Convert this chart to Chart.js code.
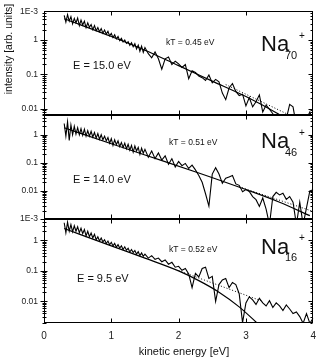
<!DOCTYPE html>
<html>
<head>
<meta charset="utf-8">
<script src="https://cdn.jsdelivr.net/npm/chart.js@4.4.1/dist/chart.umd.min.js"></script>
<style>
  html, body { margin: 0; padding: 0; background: #fff; }
  canvas { display: block; }
</style>
</head>
<body>
<canvas id="naChart" width="323" height="362"></canvas>
<script>
// kinetic energy grid of the measured spectra (eV)
const energy = [
  0.3, 0.325, 0.35, 0.375, 0.4, 0.425, 0.45, 0.475, 0.5, 0.525,
  0.55, 0.575, 0.6, 0.625, 0.65, 0.675, 0.7, 0.725, 0.75, 0.775,
  0.8, 0.825, 0.85, 0.875, 0.9, 0.925, 0.95, 0.975, 1, 1.025,
  1.05, 1.075, 1.1, 1.125, 1.15, 1.175, 1.2, 1.225, 1.25, 1.275,
  1.3, 1.325, 1.35, 1.375, 1.4, 1.425, 1.45, 1.475, 1.5,
  1.55, 1.6, 1.65, 1.7, 1.75, 1.8, 1.85, 1.9, 1.95, 2,
  2.05, 2.1, 2.15, 2.2, 2.25, 2.3, 2.35, 2.4, 2.45, 2.5,
  2.55, 2.6, 2.65, 2.7, 2.75, 2.8, 2.85, 2.9, 2.95, 3,
  3.05, 3.1, 3.15, 3.2, 3.25, 3.3, 3.35, 3.4, 3.45, 3.5,
  3.55, 3.6, 3.65, 3.7, 3.75, 3.8, 3.85, 3.9, 3.95, 4
];

// measured intensities (arb. units)
const na70 = [
  5.25, 3.31, 5.50, 3.55, 4.79, 2.95, 4.27, 3.16, 4.37, 2.63,
  3.80, 2.75, 3.55, 2.29, 3.16, 2.34, 2.82, 2.00, 2.63, 1.86,
  2.29, 1.74, 2.14, 1.58, 1.95, 1.48, 1.78, 1.32, 1.55, 1.17,
  1.41, 1.07, 1.26, 0.955, 1.12, 0.871, 1.00, 0.794, 0.891, 0.692,
  0.832, 0.631, 0.776, 0.550, 0.708, 0.468, 0.661, 0.437, 0.603,
  0.398, 0.302, 0.447, 0.282, 0.141, 0.282, 0.316, 0.191, 0.240, 0.200,
  0.158, 0.191, 0.0741, 0.126, 0.112, 0.0891, 0.0794, 0.0661, 0.0955, 0.0562,
  0.0708, 0.0603, 0.0282, 0.0182, 0.0398, 0.0537, 0.0316, 0.0240, 0.0263, 0.0120,
  0.0209, 0.0112, 0.0158, 0.0251, 0.00794, 0.0126, 0.00955, 0.00708, 0.00398, 0.00251,
  0.00316, 0.00501, 0.0132, 0.0112, 0.00316, 0.00200, 0.00251, 0.00501, 0.00794, 0.00398
];
const na46 = [
  2.51, 0.891, 2.88, 0.631, 2.24, 1.00, 2.00, 1.05, 1.78, 1.00,
  1.66, 0.955, 1.58, 0.891, 1.41, 0.891, 1.32, 0.832, 1.20, 0.759,
  1.10, 0.692, 1.00, 0.661, 0.891, 0.603, 0.794, 0.501, 0.724, 0.417,
  0.661, 0.447, 0.603, 0.380, 0.525, 0.355, 0.501, 0.316, 0.457, 0.282,
  0.417, 0.240, 0.398, 0.263, 0.355, 0.200, 0.331, 0.219, 0.302,
  0.158, 0.263, 0.141, 0.224, 0.126, 0.178, 0.0891, 0.141, 0.0708, 0.112,
  0.0794, 0.0955, 0.0631, 0.0832, 0.0562, 0.0355, 0.0204, 0.00794, 0.00288, 0.0398,
  0.0676, 0.0398, 0.0186, 0.0282, 0.0316, 0.0355, 0.0178, 0.0158, 0.00933, 0.0112,
  0.00955, 0.00631, 0.00490, 0.00282, 0.00562, 0.00224, 0.000631, 0.00631, 0.00891, 0.00724,
  0.00832, 0.00501, 0.00631, 0.00398, 0.000631, 0.00398, 0.000631, 0.00251, 0.0100, 0.0110
];
const na16 = [
  3.80, 1.78, 3.98, 2.00, 3.31, 1.91, 3.02, 2.00, 2.82, 1.78,
  2.51, 1.66, 2.29, 1.41, 2.00, 1.32, 1.74, 1.20, 1.58, 1.05,
  1.32, 0.955, 1.20, 0.891, 1.05, 0.794, 0.955, 0.724, 0.871, 0.661,
  0.794, 0.603, 0.724, 0.562, 0.661, 0.501, 0.617, 0.479, 0.550, 0.417,
  0.501, 0.398, 0.468, 0.355, 0.427, 0.316, 0.389, 0.302, 0.355,
  0.263, 0.316, 0.240, 0.263, 0.200, 0.229, 0.166, 0.191, 0.132, 0.141,
  0.105, 0.120, 0.0794, 0.0282, 0.0832, 0.0631, 0.120, 0.132, 0.0562, 0.0661,
  0.0100, 0.0355, 0.0501, 0.0562, 0.0282, 0.0417, 0.0355, 0.0178, 0.00200, 0.00891,
  0.0141, 0.0112, 0.00794, 0.0126, 0.00891, 0.00708, 0.0105, 0.00631, 0.00891, 0.00708,
  0.00501, 0.00759, 0.00562, 0.00398, 0.00447, 0.00316, 0.00191, 0.00398, 0.00191, 0.00282
];

// fitted curves (solid) and plain exponentials (dotted)
const fitE70 = [0.3, 1, 1.5, 2, 2.5, 3, 3.45, 3.55];
const fit70 = [4.17, 1.26, 0.501, 0.178, 0.0631, 0.0224, 0.00759, 0.00575];
const dotE70 = [2.7, 3.7];
const dot70 = [0.0501, 0.00575];

const fitE46 = [0.3, 1, 1.5, 2.3, 3, 3.5, 3.95];
const fit46 = [1.78, 0.479, 0.191, 0.0437, 0.0112, 0.00398, 0.00132];
const dotE46 = [2.9, 4.0];
const dot46 = [0.0141, 0.00186];

const fitE16 = [0.3, 1, 1.5, 2, 2.3, 2.6, 2.9, 3.2];
const fit16 = [2.45, 0.661, 0.263, 0.100, 0.0479, 0.0200, 0.00661, 0.00166];
const dotE16 = [2.0, 3.25];
const dot16 = [0.102, 0.0100];

// y ranges of the three panels (top to bottom)
const range70 = [0.00646, 6.94];
const range46 = [0.001, 5.02];
const range16 = [0.00195, 5.03];

const xTickLabels = ['0', '1', '2', '3', '4'];

const FONT = '"Liberation Sans", Arial, sans-serif';

const panels = [
  { axis: 'yA', sub: '70', kT: 'kT = 0.45 eV', eLab: 'E = 15.0 eV',
    pos: { kT: [122, 34], e: [29, 58], na: [217, 40], sub: [241, 48], plus: [258, 25] } },
  { axis: 'yB', sub: '46', kT: 'kT = 0.51 eV', eLab: 'E = 14.0 eV',
    pos: { kT: [125, 30], e: [29, 68], na: [217, 33], sub: [241, 41], plus: [258, 18] } },
  { axis: 'yC', sub: '16', kT: 'kT = 0.52 eV', eLab: 'E = 9.5 eV',
    pos: { kT: [125, 33], e: [33, 63], na: [217, 35], sub: [241, 42], plus: [258, 19] } }
];

function pts(xs, ys) {
  return xs.map((x, i) => ({ x: x, y: ys[i] }));
}

function isDecade(v) {
  const lg = Math.log10(v);
  return Math.abs(lg - Math.round(lg)) < 1e-6;
}

function decadeLabel(v) {
  if (!isDecade(v)) return '';
  const e = Math.round(Math.log10(v));
  if (e <= -3) return '1E' + e;
  return String(+v.toPrecision(1));
}

function logTicks(scale) {
  const t = [];
  for (let e = -4; e <= 1; e++) {
    for (let k = 1; k <= 9; k++) {
      const v = +(k * Math.pow(10, e)).toPrecision(3);
      if (v >= scale.min && v <= scale.max) t.push({ value: v });
    }
  }
  scale.ticks = t;
}

function yAxis(r) {
  return {
    type: 'logarithmic',
    position: 'left',
    stack: 'panels',
    stackWeight: 1,
    min: r[0],
    max: r[1],
    afterBuildTicks: logTicks,
    afterFit: s => { s.width = 44; },
    grid: { display: false, drawTicks: false },
    border: { display: false },
    ticks: {
      autoSkip: false,
      padding: 6,
      color: '#222',
      font: { family: FONT, size: 8.5 },
      callback: v => decadeLabel(v)
    }
  };
}

function line(data, axis, opts) {
  return Object.assign({
    data: data,
    yAxisID: axis,
    borderColor: '#000',
    borderWidth: 1.1,
    pointRadius: 0,
    tension: 0,
    clip: 0,
    fill: false
  }, opts || {});
}

const decor = {
  id: 'decor',
  afterDraw(chart) {
    const ctx = chart.ctx;
    const xs = chart.scales.x;
    const left = Math.round(xs.left) + 0.5;
    const right = Math.round(xs.right) - 0.5;
    ctx.save();
    ctx.strokeStyle = '#000';
    ctx.lineWidth = 1;
    panels.forEach(p => {
      const ys = chart.scales[p.axis];
      const top = Math.round(ys.top) + 0.5;
      const bottom = Math.round(ys.bottom) - 0.5;
      ctx.strokeRect(left, top, right - left, bottom - top);
      ctx.beginPath();
      ys.ticks.forEach(t => {
        const y = Math.round(ys.getPixelForValue(t.value)) + 0.5;
        const big = isDecade(t.value);
        ctx.moveTo(left - (big ? 4 : 2), y);
        ctx.lineTo(left + (big ? 3 : 2), y);
        ctx.moveTo(right - (big ? 4 : 2), y);
        ctx.lineTo(right, y);
      });
      for (let i = 1; i < xTickLabels.length - 1; i++) {
        const x = Math.round(xs.getPixelForValue(i)) + 0.5;
        ctx.moveTo(x, bottom);
        ctx.lineTo(x, bottom - 4);
        ctx.moveTo(x, top);
        ctx.lineTo(x, top + 4);
      }
      ctx.stroke();

      // panel texts
      const ox = xs.left, oy = ys.top;
      ctx.fillStyle = '#111';
      ctx.textBaseline = 'alphabetic';
      ctx.textAlign = 'left';
      ctx.font = '8.5px ' + FONT;
      ctx.fillText(p.kT, ox + p.pos.kT[0], oy + p.pos.kT[1]);
      ctx.font = '11px ' + FONT;
      ctx.fillText(p.eLab, ox + p.pos.e[0], oy + p.pos.e[1]);
      ctx.font = '22px ' + FONT;
      ctx.fillText('Na', ox + p.pos.na[0], oy + p.pos.na[1]);
      ctx.font = '11px ' + FONT;
      ctx.fillText(p.sub, ox + p.pos.sub[0], oy + p.pos.sub[1]);
      ctx.font = '10px ' + FONT;
      ctx.textAlign = 'center';
      ctx.textBaseline = 'middle';
      ctx.fillText('+', ox + p.pos.plus[0], oy + p.pos.plus[1]);
    });

    // stray label at the very top of the first panel
    const yA = chart.scales.yA;
    ctx.font = '8.5px ' + FONT;
    ctx.fillStyle = '#222';
    ctx.textAlign = 'right';
    ctx.textBaseline = 'middle';
    ctx.fillText('1E-3', xs.left - 6, yA.top + 1);

    // axis titles
    ctx.fillStyle = '#111';
    ctx.font = '11px ' + FONT;
    ctx.textAlign = 'center';
    ctx.textBaseline = 'middle';
    ctx.fillText('kinetic energy [eV]', 184, 352);
    ctx.translate(9, 49);
    ctx.rotate(-Math.PI / 2);
    ctx.font = '10.5px ' + FONT;
    ctx.fillText('intensity [arb. units]', 0, 0);
    ctx.restore();
  }
};

const ctx = document.getElementById('naChart').getContext('2d');

const naChart = new Chart(ctx, {
  type: 'line',
  data: {
    datasets: [
      line(pts(energy, na70), 'yA'),
      line(pts(fitE70, fit70), 'yA', { borderWidth: 1.2, cubicInterpolationMode: 'monotone' }),
      line(pts(dotE70, dot70), 'yA', { borderWidth: 1, borderDash: [1, 2] }),
      line(pts(energy, na46), 'yB'),
      line(pts(fitE46, fit46), 'yB', { borderWidth: 1.2, cubicInterpolationMode: 'monotone' }),
      line(pts(dotE46, dot46), 'yB', { borderWidth: 1, borderDash: [1, 2] }),
      line(pts(energy, na16), 'yC'),
      line(pts(fitE16, fit16), 'yC', { borderWidth: 1.2, cubicInterpolationMode: 'monotone' }),
      line(pts(dotE16, dot16), 'yC', { borderWidth: 1, borderDash: [1, 2] })
    ]
  },
  options: {
    responsive: false,
    animation: false,
    layout: { padding: { top: 2, right: 7, left: 0, bottom: 0 } },
    plugins: {
      legend: { display: false },
      tooltip: { enabled: false }
    },
    scales: {
      x: {
        type: 'linear',
        min: 0,
        max: 4,
        afterFit: s => { s.height = 39; },
        grid: { display: false, drawTicks: false },
        border: { display: false },
        ticks: {
          stepSize: 1,
          padding: 7,
          color: '#222',
          font: { family: FONT, size: 10 },
          callback: v => xTickLabels[v] ?? ''
        }
      },
      // later scales are stacked higher up, so the bottom panel comes first
      yC: yAxis(range16),
      yB: yAxis(range46),
      yA: yAxis(range70)
    }
  },
  plugins: [decor]
});
</script>
</body>
</html>
